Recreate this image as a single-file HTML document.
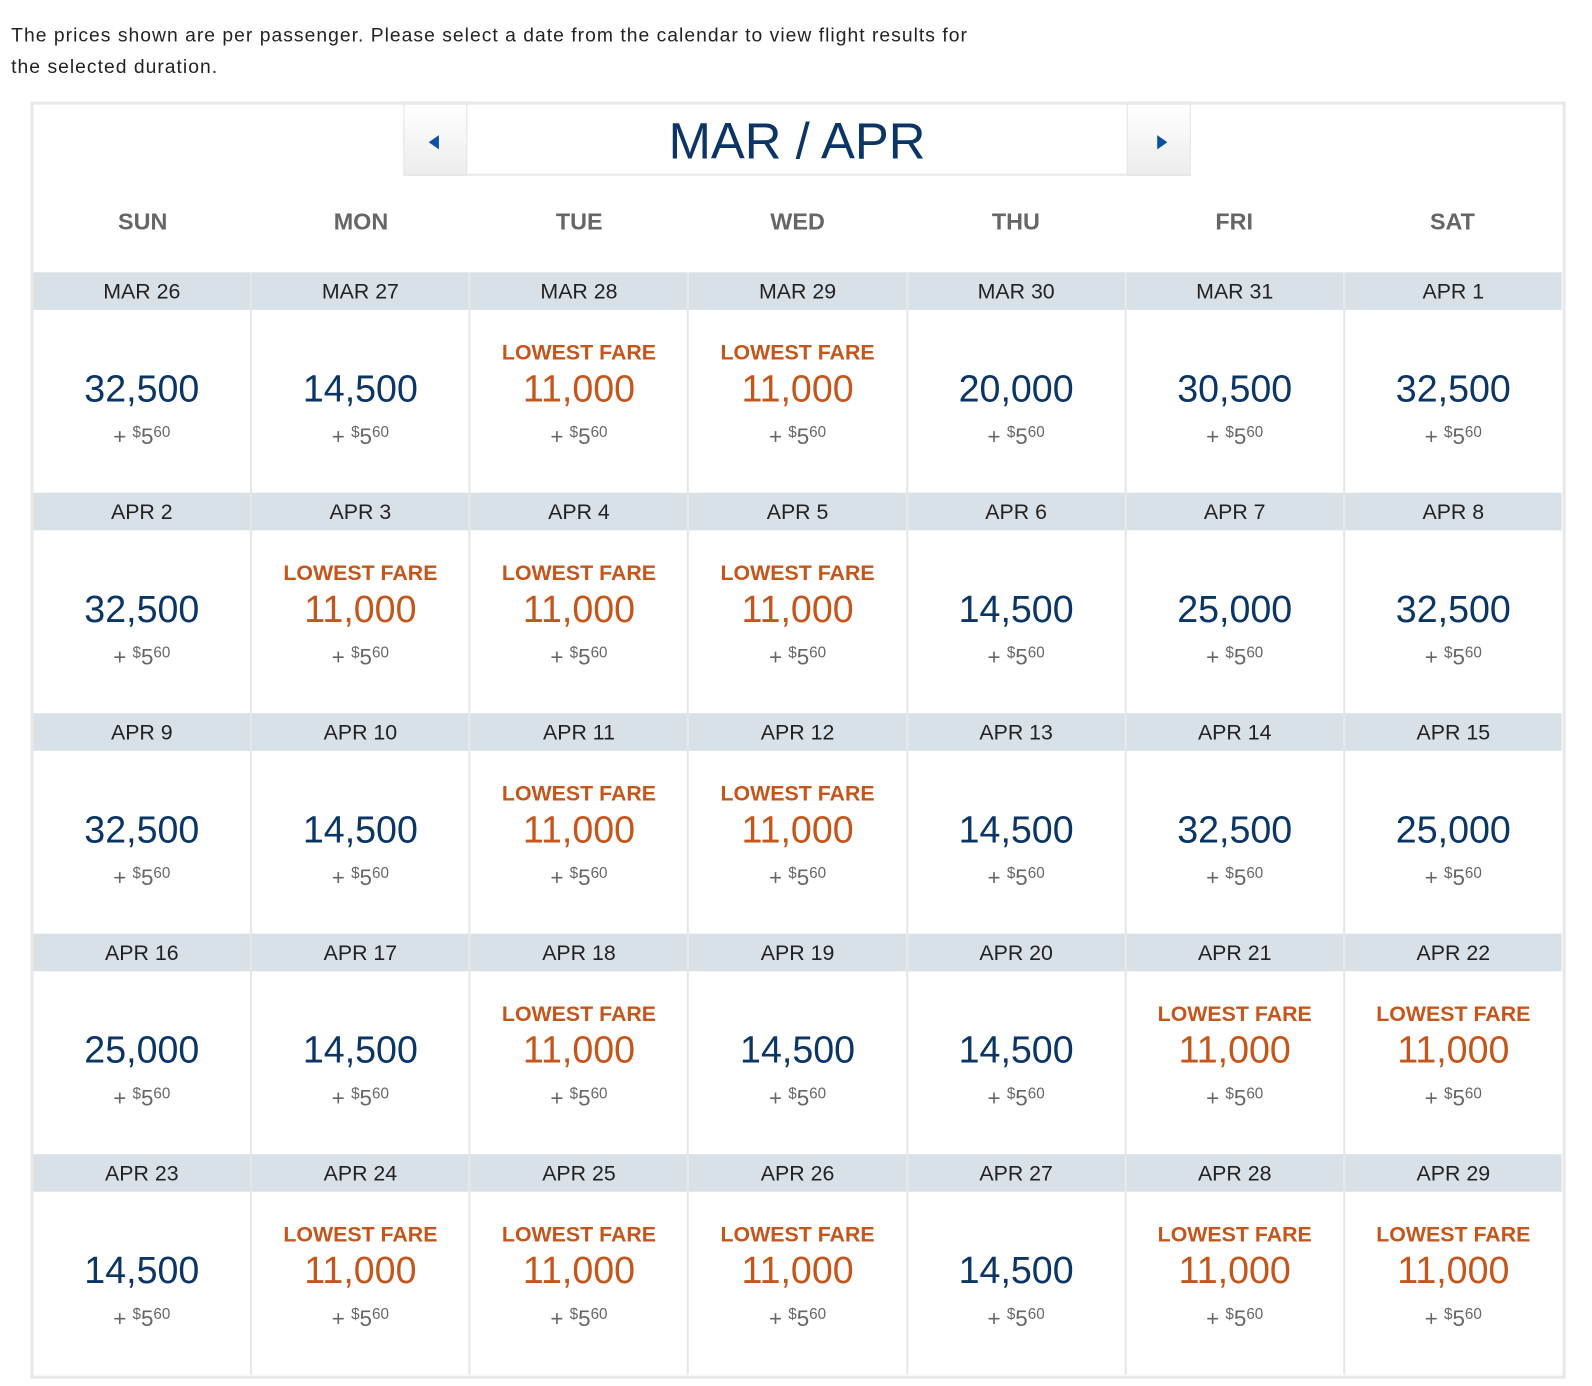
<!DOCTYPE html>
<html><head><meta charset="utf-8"><style>
*{margin:0;padding:0;box-sizing:border-box}
body{width:1592px;height:1386px;background:#fff;font-family:"Liberation Sans",sans-serif;position:relative;overflow:hidden}
.wrap{position:absolute;left:0;top:0;width:1560px;height:1358px;transform:scale(1.016);transform-origin:0 0}
.intro{position:absolute;left:11px;top:20px;font-size:19px;line-height:31px;color:#222;letter-spacing:1px}
.box{position:absolute;left:30px;top:100px;width:1511px;height:1257px;border:3px solid #e8e8e8}
.nav{position:absolute;left:397px;top:102px;width:775px;height:71px;border-bottom:2px solid #e8e8e8}
.btn{position:absolute;top:0;width:63px;height:71px;background:linear-gradient(#fff,#ececec);border:1px solid #e2e2e2}
.title{position:absolute;left:63px;right:63px;top:0;height:71px;text-align:center;font-size:50px;line-height:74px;color:#0b3565}
.days{position:absolute;left:33px;top:200px;width:1504px;display:flex}
.days div{flex:1;text-align:center;font-size:23px;font-weight:bold;color:#666;line-height:36px}
.grid{position:absolute;left:33px;top:268px;width:1504px;height:1085px;display:grid;grid-template-columns:repeat(7,1fr);grid-auto-rows:217px;column-gap:2px;background:#e6e6e6}
.c{background:#fff;position:relative}
.d{position:absolute;left:0;right:0;top:0;height:37px;background:#d9e1e8;text-align:center;font-size:21px;line-height:39px;color:#222}
.l{position:absolute;left:0;right:0;top:67px;text-align:center;font-size:21px;font-weight:bold;color:#c4561b;line-height:26px}
.p{position:absolute;left:0;right:0;top:94px;text-align:center;font-size:37px;line-height:42px;color:#0b3565}
.o .p{color:#c4561b}
.t{position:absolute;left:0;right:0;top:146px;text-align:center;font-size:22px;color:#666;line-height:24px}
.t sup{font-size:15px;vertical-align:7px}
</style></head><body><div class="wrap">
<div class="intro">The prices shown are per passenger. Please select a date from the calendar to view flight results for<br>the selected duration.</div>
<div class="box"></div>
<div class="nav">
<div class="btn" style="left:0"><svg width="63" height="71"><polygon points="24,37 34,30 34,44" fill="#0d4fa3"/></svg></div>
<div class="title">MAR / APR</div>
<div class="btn" style="right:0"><svg width="63" height="71"><polygon points="39,37 29,30 29,44" fill="#0d4fa3"/></svg></div>
</div>
<div class="days"><div>SUN</div><div>MON</div><div>TUE</div><div>WED</div><div>THU</div><div>FRI</div><div>SAT</div></div>
<div class="grid">
<div class="c"><div class="d">MAR 26</div><div class="p">32,500</div><div class="t">+ <sup>$</sup>5<sup>60</sup></div></div>
<div class="c"><div class="d">MAR 27</div><div class="p">14,500</div><div class="t">+ <sup>$</sup>5<sup>60</sup></div></div>
<div class="c o"><div class="d">MAR 28</div><div class="l">LOWEST FARE</div><div class="p">11,000</div><div class="t">+ <sup>$</sup>5<sup>60</sup></div></div>
<div class="c o"><div class="d">MAR 29</div><div class="l">LOWEST FARE</div><div class="p">11,000</div><div class="t">+ <sup>$</sup>5<sup>60</sup></div></div>
<div class="c"><div class="d">MAR 30</div><div class="p">20,000</div><div class="t">+ <sup>$</sup>5<sup>60</sup></div></div>
<div class="c"><div class="d">MAR 31</div><div class="p">30,500</div><div class="t">+ <sup>$</sup>5<sup>60</sup></div></div>
<div class="c"><div class="d">APR 1</div><div class="p">32,500</div><div class="t">+ <sup>$</sup>5<sup>60</sup></div></div>

<div class="c"><div class="d">APR 2</div><div class="p">32,500</div><div class="t">+ <sup>$</sup>5<sup>60</sup></div></div>
<div class="c o"><div class="d">APR 3</div><div class="l">LOWEST FARE</div><div class="p">11,000</div><div class="t">+ <sup>$</sup>5<sup>60</sup></div></div>
<div class="c o"><div class="d">APR 4</div><div class="l">LOWEST FARE</div><div class="p">11,000</div><div class="t">+ <sup>$</sup>5<sup>60</sup></div></div>
<div class="c o"><div class="d">APR 5</div><div class="l">LOWEST FARE</div><div class="p">11,000</div><div class="t">+ <sup>$</sup>5<sup>60</sup></div></div>
<div class="c"><div class="d">APR 6</div><div class="p">14,500</div><div class="t">+ <sup>$</sup>5<sup>60</sup></div></div>
<div class="c"><div class="d">APR 7</div><div class="p">25,000</div><div class="t">+ <sup>$</sup>5<sup>60</sup></div></div>
<div class="c"><div class="d">APR 8</div><div class="p">32,500</div><div class="t">+ <sup>$</sup>5<sup>60</sup></div></div>

<div class="c"><div class="d">APR 9</div><div class="p">32,500</div><div class="t">+ <sup>$</sup>5<sup>60</sup></div></div>
<div class="c"><div class="d">APR 10</div><div class="p">14,500</div><div class="t">+ <sup>$</sup>5<sup>60</sup></div></div>
<div class="c o"><div class="d">APR 11</div><div class="l">LOWEST FARE</div><div class="p">11,000</div><div class="t">+ <sup>$</sup>5<sup>60</sup></div></div>
<div class="c o"><div class="d">APR 12</div><div class="l">LOWEST FARE</div><div class="p">11,000</div><div class="t">+ <sup>$</sup>5<sup>60</sup></div></div>
<div class="c"><div class="d">APR 13</div><div class="p">14,500</div><div class="t">+ <sup>$</sup>5<sup>60</sup></div></div>
<div class="c"><div class="d">APR 14</div><div class="p">32,500</div><div class="t">+ <sup>$</sup>5<sup>60</sup></div></div>
<div class="c"><div class="d">APR 15</div><div class="p">25,000</div><div class="t">+ <sup>$</sup>5<sup>60</sup></div></div>

<div class="c"><div class="d">APR 16</div><div class="p">25,000</div><div class="t">+ <sup>$</sup>5<sup>60</sup></div></div>
<div class="c"><div class="d">APR 17</div><div class="p">14,500</div><div class="t">+ <sup>$</sup>5<sup>60</sup></div></div>
<div class="c o"><div class="d">APR 18</div><div class="l">LOWEST FARE</div><div class="p">11,000</div><div class="t">+ <sup>$</sup>5<sup>60</sup></div></div>
<div class="c"><div class="d">APR 19</div><div class="p">14,500</div><div class="t">+ <sup>$</sup>5<sup>60</sup></div></div>
<div class="c"><div class="d">APR 20</div><div class="p">14,500</div><div class="t">+ <sup>$</sup>5<sup>60</sup></div></div>
<div class="c o"><div class="d">APR 21</div><div class="l">LOWEST FARE</div><div class="p">11,000</div><div class="t">+ <sup>$</sup>5<sup>60</sup></div></div>
<div class="c o"><div class="d">APR 22</div><div class="l">LOWEST FARE</div><div class="p">11,000</div><div class="t">+ <sup>$</sup>5<sup>60</sup></div></div>

<div class="c"><div class="d">APR 23</div><div class="p">14,500</div><div class="t">+ <sup>$</sup>5<sup>60</sup></div></div>
<div class="c o"><div class="d">APR 24</div><div class="l">LOWEST FARE</div><div class="p">11,000</div><div class="t">+ <sup>$</sup>5<sup>60</sup></div></div>
<div class="c o"><div class="d">APR 25</div><div class="l">LOWEST FARE</div><div class="p">11,000</div><div class="t">+ <sup>$</sup>5<sup>60</sup></div></div>
<div class="c o"><div class="d">APR 26</div><div class="l">LOWEST FARE</div><div class="p">11,000</div><div class="t">+ <sup>$</sup>5<sup>60</sup></div></div>
<div class="c"><div class="d">APR 27</div><div class="p">14,500</div><div class="t">+ <sup>$</sup>5<sup>60</sup></div></div>
<div class="c o"><div class="d">APR 28</div><div class="l">LOWEST FARE</div><div class="p">11,000</div><div class="t">+ <sup>$</sup>5<sup>60</sup></div></div>
<div class="c o"><div class="d">APR 29</div><div class="l">LOWEST FARE</div><div class="p">11,000</div><div class="t">+ <sup>$</sup>5<sup>60</sup></div></div>
</div>
</div></body></html>
